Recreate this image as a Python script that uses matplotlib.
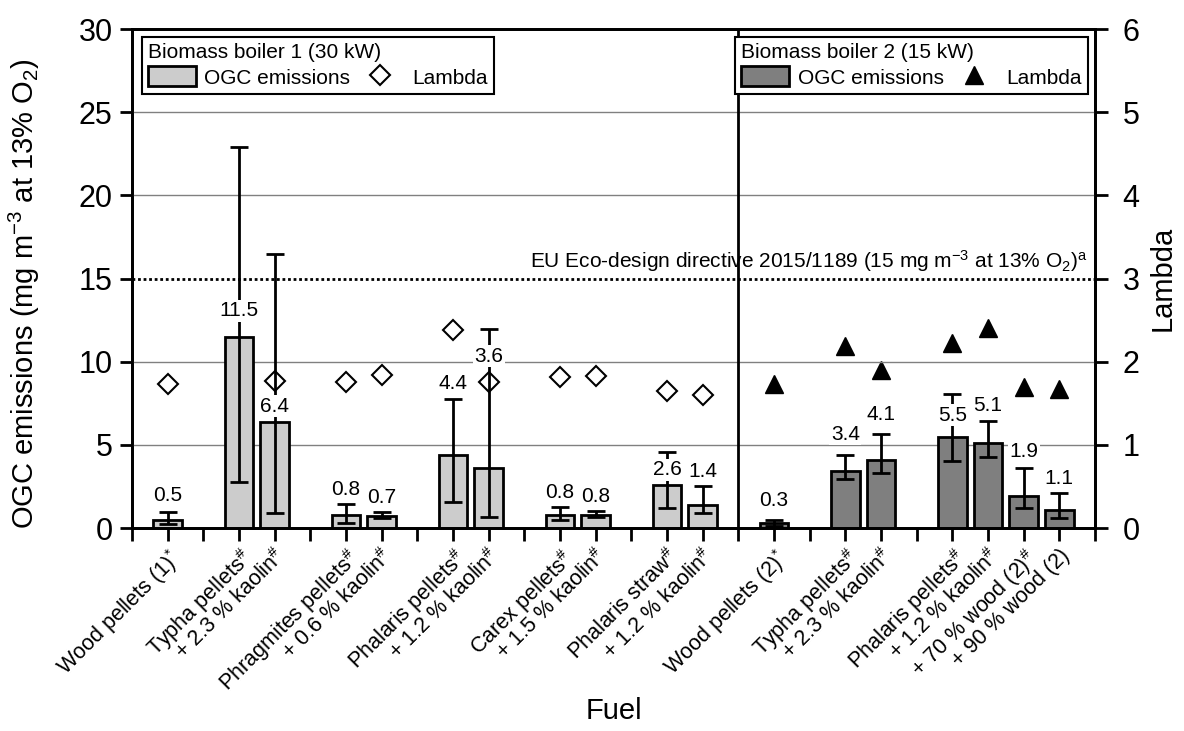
import matplotlib
matplotlib.use("Agg")
import matplotlib.pyplot as plt
from matplotlib.patches import Patch
from matplotlib.lines import Line2D

plt.rcParams['font.family'] = ['Liberation Sans', 'DejaVu Sans']
plt.rcParams['mathtext.fontset'] = 'custom'
plt.rcParams['mathtext.rm'] = 'Liberation Sans'
plt.rcParams['mathtext.it'] = 'Liberation Sans:italic'
plt.rcParams['mathtext.bf'] = 'Liberation Sans:bold'

# boiler 1 (30 kW)
fuels_1 = ["Wood pellets (1)$^{*}$", "Typha pellets$^{\\#}$", "+ 2.3 % kaolin$^{\\#}$",
           "Phragmites pellets$^{\\#}$", "+ 0.6 % kaolin$^{\\#}$",
           "Phalaris pellets$^{\\#}$", "+ 1.2 % kaolin$^{\\#}$",
           "Carex pellets$^{\\#}$", "+ 1.5 % kaolin$^{\\#}$",
           "Phalaris straw$^{\\#}$", "+ 1.2 % kaolin$^{\\#}$"]
groups_1 = [1, 2, 2, 2, 2, 2]
ogc_1 = [0.5, 11.5, 6.4, 0.8, 0.7, 4.4, 3.6, 0.8, 0.8, 2.6, 1.4]
ogc_1_low = [0.24, 2.74, 0.88, 0.32, 0.58, 1.54, 0.68, 0.48, 0.68, 1.18, 0.88]
ogc_1_high = [0.98, 22.9, 16.5, 1.42, 0.94, 7.78, 11.96, 1.24, 1.04, 4.59, 2.52]
lambda_1 = [1.73, 1.83, 1.77, 1.76, 1.84, 2.38, 1.75, 1.82, 1.83, 1.65, 1.60]

# boiler 2 (15 kW)
fuels_2 = ["Wood pellets (2)$^{*}$", "Typha pellets$^{\\#}$", "+ 2.3 % kaolin$^{\\#}$",
           "Phalaris pellets$^{\\#}$", "+ 1.2 % kaolin$^{\\#}$",
           "+ 70 % wood (2)$^{\\#}$", "+ 90 % wood (2)"]
groups_2 = [1, 2, 4]
ogc_2 = [0.3, 3.4, 4.1, 5.5, 5.1, 1.9, 1.1]
ogc_2_low = [0.15, 2.93, 3.29, 4.05, 4.29, 1.18, 0.58]
ogc_2_high = [0.48, 4.37, 5.63, 8.06, 6.45, 3.59, 2.09]
lambda_2 = [1.73, 2.19, 1.90, 2.23, 2.41, 1.69, 1.67]

eco_limit = 15

# heights of the value labels
label_y_1 = [1.98, 13.05, 7.33, 2.33, 1.85, 8.7, 10.34, 2.15, 1.88, 3.49, 3.39]
label_y_2 = [1.68, 5.63, 6.85, 6.79, 7.35, 4.59, 2.99]

light = '#cccccc'
dark = '#7f7f7f'


def slots(groups, start):
    pos = []
    x = start
    for g in groups:
        pos += list(range(x, x + g))
        x += g + 1
    return pos, x - 1


pos_1, divider = slots(groups_1, 1)
pos_2, right_end = slots(groups_2, divider + 1)

fig = plt.figure(figsize=(11.84, 7.31), dpi=100)
ax = fig.add_axes([0.1115, 0.2777, 0.8133, 0.6826])
ax2 = ax.twinx()

for y in [5, 10, 20, 25]:
    ax.axhline(y, color='#808080', lw=1, zorder=0)
ax.axhline(eco_limit, color='black', lw=2, ls=(0, (1, 1)), zorder=1)
ax.axvline(divider, color='black', lw=2, zorder=1)

err_kw = dict(ecolor='black', elinewidth=2, capsize=6.5, capthick=2, zorder=3)
for pos, vals, lo, hi, col in [(pos_1, ogc_1, ogc_1_low, ogc_1_high, light),
                               (pos_2, ogc_2, ogc_2_low, ogc_2_high, dark)]:
    yerr = [[v - l for v, l in zip(vals, lo)], [h - v for v, h in zip(vals, hi)]]
    ax.bar(pos, vals, width=0.8, color=col, edgecolor='black', linewidth=2, zorder=2)
    ax.errorbar(pos, vals, yerr=yerr, fmt='none', **err_kw)

for pos, vals, ly in [(pos_1, ogc_1, label_y_1), (pos_2, ogc_2, label_y_2)]:
    for x, v, y in zip(pos, vals, ly):
        ax.text(x, y, f"{v:.1f}", ha='center', va='center', fontsize=15, zorder=4,
                bbox=dict(facecolor='white', edgecolor='none', pad=1))

ax.text(0.9927, eco_limit + 0.3,
        "EU Eco-design directive 2015/1189 (15 mg m$^{-3}$ at 13% O$_2$)$^{\\mathrm{a}}$",
        transform=ax.get_yaxis_transform(), fontsize=15, ha='right', va='bottom', zorder=4)

ax2.plot(pos_1, lambda_1, ls='none', marker='D', ms=10, mfc='white', mec='black', mew=1.5, zorder=5)
ax2.plot(pos_2, lambda_2, ls='none', marker='^', ms=13, color='black', zorder=5)

ax.set_xlim(0, right_end)
ax.set_ylim(0, 30)
ax2.set_ylim(0, 6)
ax.set_yticks(range(0, 31, 5))
ax2.set_yticks(range(0, 7))

tick_pos = list(range(0, right_end + 1))
tick_lab = [''] * len(tick_pos)
for p, f in zip(pos_1 + pos_2, fuels_1 + fuels_2):
    tick_lab[p] = f
ax.set_xticks(tick_pos)
ax.set_xticklabels(tick_lab, rotation=45, ha='right', rotation_mode='anchor', fontsize=15.5)

for a in (ax, ax2):
    for s in a.spines.values():
        s.set_linewidth(2)
    a.tick_params(width=2, length=9, labelsize=22, pad=5)
ax.tick_params(axis='x', labelsize=15.5, pad=3)
ax2.tick_params(axis='y', pad=11)

ax.set_ylabel("OGC emissions (mg m$^{-3}$ at 13% O$_2$)", fontsize=21)
ax.yaxis.set_label_coords(-0.0935, 0.47)
ax2.set_ylabel("Lambda", fontsize=21)
ax2.yaxis.set_label_coords(1.056, 0.5)
ax.set_xlabel("Fuel", fontsize=21)
ax.xaxis.set_label_coords(0.5, -0.339)

ax.set_zorder(ax2.get_zorder() + 1)
ax.patch.set_visible(False)

leg_kw = dict(ncol=2, fontsize=15, title_fontsize=15, alignment='left', fancybox=False,
              edgecolor='black', framealpha=1, borderaxespad=0, handlelength=2.3,
              handleheight=1.1, handletextpad=0.4, columnspacing=0.3, borderpad=0.3,
              labelspacing=0.2)
h1 = [Patch(facecolor=light, edgecolor='black', linewidth=2),
      Line2D([], [], ls='none', marker='D', ms=10, mfc='white', mec='black', mew=1.5)]
h2 = [Patch(facecolor=dark, edgecolor='black', linewidth=2),
      Line2D([], [], ls='none', marker='^', ms=13, color='black')]
leg1 = ax.legend(h1, ["OGC emissions", "Lambda"], title="Biomass boiler 1 (30 kW)",
                 loc='upper left', bbox_to_anchor=(0.01, 0.984), **leg_kw)
ax.add_artist(leg1)
leg2 = ax.legend(h2, ["OGC emissions", "Lambda"], title="Biomass boiler 2 (15 kW)",
                 loc='upper right', bbox_to_anchor=(0.9927, 0.984), **leg_kw)
for lg in (leg1, leg2):
    lg.get_frame().set_linewidth(1.5)
    lg.set_zorder(6)

fig.savefig("out.png", dpi=100)
